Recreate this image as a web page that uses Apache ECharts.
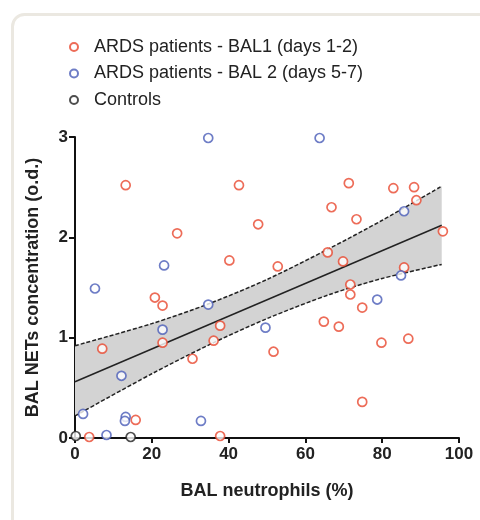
<!DOCTYPE html>
<html>
<head>
<meta charset="utf-8">
<script src="https://cdn.jsdelivr.net/npm/echarts@6/dist/echarts.min.js"></script>
<style>html,body{margin:0;padding:0;background:#fff;}#c{width:480px;height:520px;}</style>
</head>
<body>
<div id="c"></div>
<script>
var seriesNames = ['ARDS patients - BAL1 (days 1-2)', 'ARDS patients - BAL 2 (days 5-7)', 'Controls'];
var xTicks = [0, 20, 40, 60, 80, 100];
var yTicks = [0, 1, 2, 3];

var bal1 = [[13.2,2.52],[42.7,2.52],[47.7,2.13],[26.6,2.04],[40.2,1.77],[71.3,2.54],[82.9,2.49],[88.3,2.50],[88.9,2.37],[66.8,2.30],[73.3,2.18],[95.8,2.06],[65.8,1.85],[69.8,1.76],[52.8,1.71],[85.7,1.70],[71.7,1.53],[71.7,1.43],[74.8,1.30],[64.8,1.16],[68.7,1.11],[51.7,0.86],[79.8,0.95],[86.8,0.99],[74.8,0.36],[20.8,1.40],[22.8,1.32],[37.8,1.12],[22.8,0.95],[36.1,0.97],[7.1,0.89],[30.6,0.79],[15.8,0.18],[3.7,0.01],[37.8,0.02]];
var bal2 = [[34.7,2.99],[63.7,2.99],[23.2,1.72],[5.2,1.49],[85.7,2.26],[84.9,1.62],[78.7,1.38],[49.6,1.10],[34.7,1.33],[22.8,1.08],[12.1,0.62],[2.1,0.24],[13.2,0.21],[13.0,0.17],[32.8,0.17],[8.2,0.03]];
var controls = [[0.2,0.02],[14.5,0.01]];

var fitLine = [[0,0.56],[95.5,2.12]];
var bandUpper = [[0,0.92],[20,1.14],[35,1.34],[50,1.58],[66.3,1.89],[80,2.17],[95.5,2.51]];
var bandLower = [[0,0.22],[20,0.64],[35,0.93],[50,1.19],[66.3,1.43],[80,1.59],[95.5,1.73]];

var colors = ['#e8472e', '#4a5cb8', '#222222'];
var font = 'Liberation Sans, Arial, sans-serif';

var chart = echarts.init(document.getElementById('c'));

function scatterSeries(name, data, color) {
  return {
    name: name, type: 'scatter', data: data, symbol: 'circle', symbolSize: 9,
    itemStyle: { color: '#ffffff', borderColor: color, borderWidth: 1.7 },
    z: 10, clip: false
  };
}

chart.setOption({
  animation: false,
  backgroundColor: '#ffffff',
  graphic: [{
    type: 'rect', left: 10, top: 12, z: -10,
    shape: { width: 490, height: 530, r: 12 },
    style: { fill: 'none', stroke: '#ebe8e1', lineWidth: 3 }
  }],
  legend: {
    data: seriesNames, orient: 'vertical', left: 64, top: 33,
    itemWidth: 24, itemHeight: 8, itemGap: 8.5,
    textStyle: { fontFamily: font, fontSize: 18, lineHeight: 18, color: '#222', padding: [0,0,0,3] }
  },
  grid: { left: 75, right: 21, top: 137, bottom: 82, containLabel: false },
  xAxis: {
    type: 'value', min: 0, max: 100, interval: 20,
    name: 'BAL neutrophils (%)', nameLocation: 'middle', nameGap: 44,
    nameTextStyle: { fontFamily: font, fontSize: 18, fontWeight: 'bold', color: '#222' },
    axisLine: { lineStyle: { color: '#111', width: 2 } },
    axisTick: { length: 5, lineStyle: { color: '#111', width: 2 } },
    axisLabel: { fontFamily: font, fontSize: 17, fontWeight: 'bold', color: '#222', margin: 8 },
    splitLine: { show: false }
  },
  yAxis: {
    type: 'value', min: 0, max: 3, interval: 1,
    name: 'BAL NETs concentration (o.d.)', nameLocation: 'middle', nameGap: 33, nameRotate: 90,
    nameTextStyle: { fontFamily: font, fontSize: 18, fontWeight: 'bold', color: '#222' },
    axisLine: { show: true, lineStyle: { color: '#111', width: 2 } },
    axisTick: { show: true, length: 6, lineStyle: { color: '#111', width: 2 } },
    axisLabel: { fontFamily: font, fontSize: 17, fontWeight: 'bold', color: '#222', margin: 7 },
    splitLine: { show: false }
  },
  series: [
    {
      type: 'custom', name: 'band', silent: true, z: 1,
      data: [0],
      renderItem: function (params, api) {
        var pts = [];
        bandUpper.forEach(function (p) { pts.push(api.coord(p)); });
        bandLower.slice().reverse().forEach(function (p) { pts.push(api.coord(p)); });
        return { type: 'polygon', shape: { points: pts, smooth: 0 }, style: { fill: '#d3d3d3', stroke: 'none' } };
      }
    },
    { type: 'line', name: 'upper', data: bandUpper, smooth: 0.3, symbol: 'none', z: 3,
      lineStyle: { color: '#222', width: 1.5, type: [4, 2] } },
    { type: 'line', name: 'lower', data: bandLower, smooth: 0.3, symbol: 'none', z: 3,
      lineStyle: { color: '#222', width: 1.5, type: [4, 2] } },
    { type: 'line', name: 'fit', data: fitLine, symbol: 'none', z: 3,
      lineStyle: { color: '#222', width: 1.5 } },
    scatterSeries(seriesNames[0], bal1, colors[0]),
    scatterSeries(seriesNames[1], bal2, colors[1]),
    scatterSeries(seriesNames[2], controls, colors[2])
  ]
});
</script>
</body>
</html>
